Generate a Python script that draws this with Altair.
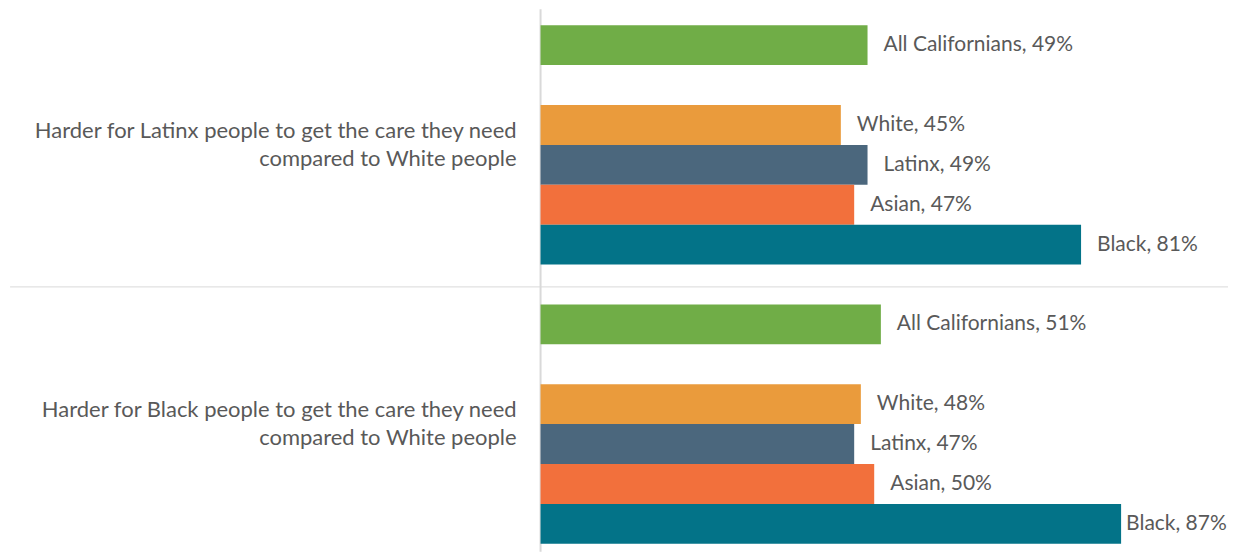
import altair as alt
import pandas as pd

group_ids = ["latinx_q", "black_q"]
group_labels = [
    "Harder for Latinx people to get the care they need\ncompared to White people",
    "Harder for Black people to get the care they need\ncompared to White people",
]
races = ["All Californians", "White", "Latinx", "Asian", "Black"]
values_latinx_q = [49, 45, 49, 47, 81]
values_black_q = [51, 48, 47, 50, 87]
colors = ["#70AD47", "#EA9B3C", "#4B677D", "#F2703C", "#037388"]

FONT = "Lato"
FONT_SIZE = 22
LABEL_SIZE = 21
TEXT_COLOR = "#595959"
LINE_COLOR = "#D9D9D9"
X_MIN, X_MAX = -79.81, 103.02

# slot order (band scale), with empty spacer slots
slots = []
for gi, g in enumerate(group_ids):
    if gi > 0:
        slots.append("between")
    slots.append(f"{g}|All Californians")
    slots.append(f"{g}|gap")
    for r in races[1:]:
        slots.append(f"{g}|{r}")

rows = []
for g, vals in zip(group_ids, [values_latinx_q, values_black_q]):
    for r, v in zip(races, vals):
        rows.append({"key": f"{g}|{r}", "race": r, "value": v, "zero": 0,
                     "label": f"{r}, {v}%"})
df = pd.DataFrame(rows)

glab = pd.DataFrame({"key": [f"{g}|White" for g in group_ids], "text": group_labels,
                     "zero": [0, 0]})
sep = pd.DataFrame({"key": ["between"], "xl": [-79.5], "xr": [X_MAX], "zero": [0]})

xscale = alt.Scale(domain=[X_MIN, X_MAX], nice=False, zero=False)
yscale = alt.Scale(domain=slots, paddingInner=0, paddingOuter=0.3006, align=0.667)

bars = alt.Chart(df).mark_bar().encode(
    x=alt.X("value:Q", scale=xscale, axis=None),
    x2="zero:Q",
    y=alt.Y("key:N", scale=yscale, axis=None),
    color=alt.Color("race:N", scale=alt.Scale(domain=races, range=colors), legend=None),
)

labels = alt.Chart(df).transform_filter("datum.value < 85").mark_text(
    align="left", baseline="middle", dx=16, fontSize=LABEL_SIZE, font=FONT, color=TEXT_COLOR
).encode(
    x=alt.X("value:Q", axis=None),
    y=alt.Y("key:N", axis=None),
    text="label:N",
)

# the longest bar's label sits closer to its bar so it fits in the frame
labels_tight = alt.Chart(df).transform_filter("datum.value >= 85").mark_text(
    align="left", baseline="middle", dx=5, fontSize=LABEL_SIZE, font=FONT, color=TEXT_COLOR
).encode(
    x=alt.X("value:Q", axis=None),
    y=alt.Y("key:N", axis=None),
    text="label:N",
)

group_text = alt.Chart(glab).mark_text(
    align="right", baseline="middle", dx=-24, dy=-14, fontSize=FONT_SIZE, font=FONT,
    color=TEXT_COLOR, lineBreak="\n", lineHeight=28
).encode(
    x=alt.X("zero:Q", axis=None),
    y=alt.Y("key:N", bandPosition=1, axis=None),
    text="text:N",
)

sep_rule = alt.Chart(sep).mark_rule(color=LINE_COLOR, strokeWidth=1).encode(
    x=alt.X("xl:Q", axis=None),
    x2="xr:Q",
    y=alt.Y("key:N", bandPosition=0.56, axis=None),
)

axis_rule = alt.Chart(sep).mark_rule(color=LINE_COLOR, strokeWidth=2).encode(
    x=alt.X("zero:Q", axis=None),
    y=alt.value(0),
    y2=alt.value(543),
)

chart = alt.layer(axis_rule, sep_rule, bars, labels, labels_tight, group_text).properties(
    width=1221, height=543, padding=0
).configure_view(stroke=None)

chart.save("out.html", embed_options={"renderer": "svg", "actions": False})
